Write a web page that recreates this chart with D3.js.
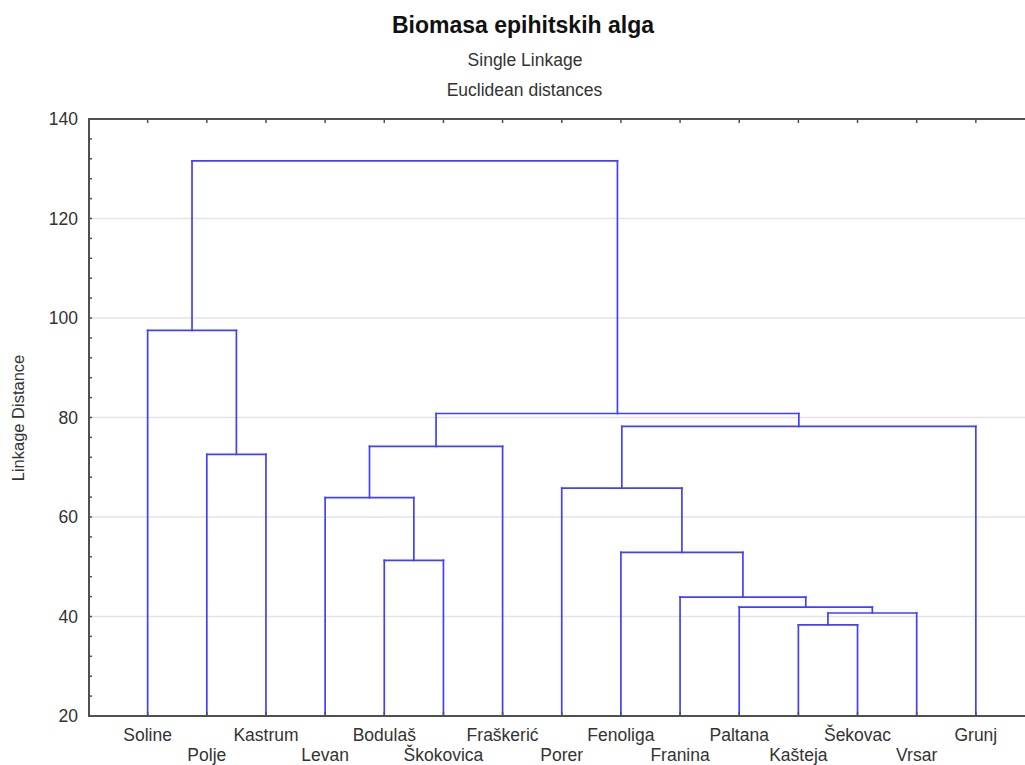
<!DOCTYPE html>
<html>
<head>
<meta charset="utf-8">
<style>
  body { margin: 0; background: #fff; }
  text { font-family: "Liberation Sans", Arial, sans-serif; }
</style>
</head>
<body>
<script src="https://cdn.jsdelivr.net/npm/d3@7"></script>
<script>
// leaves, left to right
var leaves = ["Soline","Polje","Kastrum","Levan","Bodulaš","Škokovica","Fraškerić",
              "Porer","Fenoliga","Franina","Paltana","Kašteja","Šekovac","Vrsar","Grunj"];
// merges: ids 0..14 are leaves, each merge makes id 15,16,...
var mergeA = [11, 15, 10, 9, 4, 8, 3, 7, 1, 21, 22, 24, 0, 27];
var mergeB = [12, 13, 16, 17, 5, 18, 19, 20, 2, 6, 14, 25, 23, 26];
var mergeH = [38.3, 40.7, 41.9, 43.9, 51.3, 52.9, 63.9, 65.8, 72.6, 74.2, 78.2, 80.8, 97.5, 131.6];
var yTicks = [20, 40, 60, 80, 100, 120, 140];

var W = 1025, H = 765;
var svg = d3.select("body").append("svg").attr("width", W).attr("height", H);

var x = d3.scaleLinear().domain([0, 16]).range([88.5, 1035]);
var y = d3.scaleLinear().domain([20, 140]).range([716, 119]);

// grid
svg.append("g").selectAll("line")
  .data(yTicks.filter(d => d > 20 && d < 140))
  .join("line")
  .attr("x1", 90).attr("x2", W)
  .attr("y1", d => y(d)).attr("y2", d => y(d))
  .attr("stroke", "#e4e4e4").attr("stroke-width", 1.5);

// node positions
var nodeX = leaves.map((d, i) => x(i + 1));
var nodeH = leaves.map(() => 20);
var segs = [];
mergeH.forEach(function(h, k) {
  var a = mergeA[k], b = mergeB[k];
  segs.push([nodeX[a], nodeH[a], nodeX[a], h]);
  segs.push([nodeX[b], nodeH[b], nodeX[b], h]);
  segs.push([nodeX[a], h, nodeX[b], h]);
  nodeX.push((nodeX[a] + nodeX[b]) / 2);
  nodeH.push(h);
});

svg.append("g")
  .attr("stroke", "#4040ff").attr("stroke-width", 1.7).attr("fill", "none")
  .selectAll("line").data(segs).join("line")
  .attr("x1", d => d[0]).attr("y1", d => y(d[1]))
  .attr("x2", d => d[2]).attr("y2", d => y(d[3]))
  .attr("stroke-linecap", "square");

// axes frame
var ax = svg.append("g").attr("stroke", "#505050").attr("stroke-width", 2);
ax.append("line").attr("x1", 89).attr("x2", 89).attr("y1", y(140)).attr("y2", y(20));
ax.append("line").attr("x1", 88).attr("x2", W).attr("y1", y(140)).attr("y2", y(140));
ax.append("line").attr("x1", 88).attr("x2", W).attr("y1", y(20)).attr("y2", y(20));

// y axis minor ticks
var minor = d3.range(20, 141, 4);
svg.append("g").attr("stroke", "#505050").attr("stroke-width", 1.5)
  .selectAll("line").data(minor).join("line")
  .attr("x1", 89).attr("x2", 92)
  .attr("y1", d => y(d)).attr("y2", d => y(d));

// top and bottom ticks at leaves
var tk = svg.append("g").attr("stroke", "#505050").attr("stroke-width", 1.5);
tk.selectAll(".t").data(leaves).join("line").attr("class", "t")
  .attr("x1", (d, i) => x(i + 1)).attr("x2", (d, i) => x(i + 1))
  .attr("y1", y(140)).attr("y2", y(140) + 4);
tk.selectAll(".b").data(leaves).join("line").attr("class", "b")
  .attr("x1", (d, i) => x(i + 1)).attr("x2", (d, i) => x(i + 1))
  .attr("y1", y(20)).attr("y2", y(20) - 4);

// y tick labels
svg.append("g").selectAll("text").data(yTicks).join("text")
  .attr("x", 78).attr("y", d => y(d)).attr("dy", "0.35em")
  .attr("text-anchor", "end").attr("font-size", 17.5).attr("fill", "#333")
  .text(d => d);

// leaf labels, staggered
svg.append("g").selectAll("text").data(leaves).join("text")
  .attr("x", (d, i) => x(i + 1))
  .attr("y", (d, i) => i % 2 === 0 ? 741 : 761)
  .attr("text-anchor", "middle").attr("font-size", 17.5).attr("fill", "#333")
  .text(d => d);

// titles
svg.append("text").attr("x", 523).attr("y", 33).attr("text-anchor", "middle")
  .attr("font-size", 23).attr("font-weight", "bold").attr("fill", "#111")
  .text("Biomasa epihitskih alga");
svg.append("text").attr("x", 525).attr("y", 66).attr("text-anchor", "middle")
  .attr("font-size", 17.5).attr("fill", "#333").text("Single Linkage");
svg.append("text").attr("x", 524.5).attr("y", 96).attr("text-anchor", "middle")
  .attr("font-size", 17.5).attr("fill", "#333").text("Euclidean distances");

svg.append("text")
  .attr("transform", "translate(24,418) rotate(-90)")
  .attr("text-anchor", "middle").attr("font-size", 16.5).attr("fill", "#333")
  .text("Linkage Distance");
</script>
</body>
</html>
